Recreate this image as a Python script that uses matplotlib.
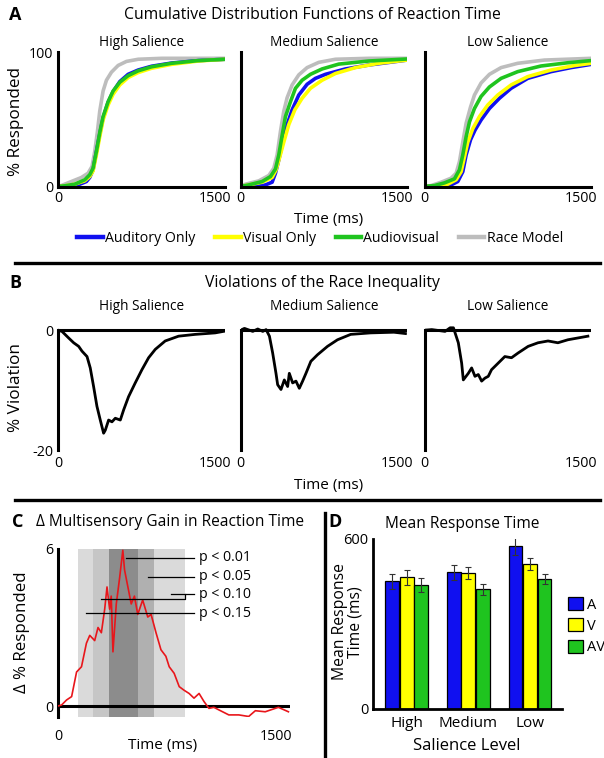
import matplotlib
matplotlib.use("Agg")
import matplotlib.pyplot as plt
from matplotlib.lines import Line2D
from matplotlib.patches import Patch

plt.rcParams['font.family'] = ['Open Sans', 'DejaVu Sans']
plt.rcParams['axes.unicode_minus'] = False

# ---- panel A : CDFs (time ms, % responded) ----
hi_race_t = [0, 32, 128, 224, 288, 326, 352, 378, 400, 432, 464, 512, 576, 656, 768, 992, 1600]
hi_race = [0, 0.7, 3.7, 6.7, 9.9, 14.9, 26, 41, 56, 71, 79, 85, 90, 93, 94.6, 95.3, 95.3]
hi_av_t = [0, 64, 160, 256, 304, 336, 368, 400, 432, 480, 528, 592, 672, 768, 896, 1088, 1344, 1600]
hi_av = [0, 0.5, 1.7, 5, 8.7, 13.6, 26, 40, 52, 63, 71, 77.5, 82.4, 86, 89, 91.6, 93.6, 94.6]
hi_a_t = [0, 96, 192, 272, 304, 336, 368, 400, 432, 480, 528, 592, 672, 768, 896, 1088, 1344, 1600]
hi_a = [0, 0, 1.2, 3.7, 6.7, 12.4, 26, 39, 51, 62.6, 70.5, 78, 83.4, 86.6, 89.4, 91.8, 93.6, 94.6]
hi_v_t = [0, 64, 160, 256, 304, 336, 368, 400, 432, 480, 528, 592, 672, 768, 896, 1088, 1344, 1600]
hi_v = [0, 0.5, 1.7, 4.2, 7.4, 11.6, 23.5, 37, 49.5, 60.6, 68.6, 75.5, 81, 84.7, 87.9, 90.8, 93.3, 94.6]

med_race_t = [0, 48, 176, 272, 320, 352, 384, 416, 448, 496, 560, 640, 752, 912, 1232, 1600]
med_race = [0, 1.7, 4.2, 8.2, 13.6, 23.5, 41, 56, 66, 75.5, 83, 88.4, 92.3, 94.6, 95.3, 95.3]
med_av_t = [0, 80, 208, 288, 336, 368, 400, 432, 480, 528, 592, 672, 784, 944, 1232, 1600]
med_av = [0, 1.2, 3.7, 7.4, 13, 23.5, 38, 52, 63, 73, 79, 83.4, 87.4, 91, 93.3, 94.8]
med_a_t = [0, 144, 240, 304, 336, 368, 406, 448, 496, 560, 640, 720, 816, 1008, 1232, 1600]
med_a = [0, 0, 1.2, 3.2, 9.9, 19.8, 33, 46, 57, 68, 76, 80.4, 83.4, 87.4, 90.3, 94]
med_v_t = [0, 80, 208, 304, 342, 374, 416, 464, 522, 592, 672, 784, 912, 1104, 1328, 1600]
med_v = [0, 1.2, 3.2, 6.7, 12.4, 21, 33, 46, 57, 65.6, 73, 79, 84, 88.4, 91.6, 94]

low_race_t = [0, 64, 160, 256, 304, 336, 368, 400, 442, 480, 544, 624, 736, 896, 1152, 1600]
low_race = [0, 0.7, 3.2, 6.2, 9.9, 18.6, 33, 47, 59, 68, 77, 83.4, 88.4, 91.6, 94, 95.3]
low_av_t = [0, 96, 192, 288, 336, 368, 400, 432, 480, 544, 624, 736, 896, 1120, 1376, 1600]
low_av = [0, 0.7, 2.7, 5.7, 12.4, 23.5, 37, 48, 58, 67, 74, 80.4, 85.4, 89.6, 92, 93.6]
low_a_t = [0, 160, 256, 320, 368, 400, 442, 486, 544, 624, 720, 832, 992, 1216, 1408, 1600]
low_a = [0, 0, 1.2, 3.7, 11, 23.5, 34.7, 42, 49.5, 58, 65.6, 73, 80.4, 85.4, 88.4, 90.8]
low_v_t = [0, 128, 224, 304, 352, 384, 416, 464, 528, 608, 704, 832, 992, 1216, 1440, 1600]
low_v = [0, 0.2, 1.7, 5, 11, 22, 33, 43, 52, 60.6, 68, 75.5, 81.7, 86.6, 89.9, 91.6]

# ---- panel B : race violations ----
hi_viol_t = [0, 38, 102, 150, 198, 230, 278, 309, 341, 373, 405, 437, 453, 485, 517, 549, 597,
             629, 676, 740, 804, 868, 932, 1027, 1155, 1314, 1506, 1585]
hi_viol = [0, -0.2, -1.3, -2.1, -2.7, -3.5, -4.4, -6.3, -9.4, -12.7, -15, -17.2, -16.7, -15, -15.3,
           -14.7, -15, -13.3, -11.1, -8.8, -6.6, -4.6, -3.2, -1.8, -1.0, -0.7, -0.45, -0.2]
med_viol_t = [0, 38, 118, 166, 214, 246, 278, 309, 341, 357, 389, 421, 453, 469, 501, 533, 565,
              597, 629, 676, 740, 836, 932, 1059, 1250, 1474, 1585]
med_viol = [0, 0.3, -0.2, 0.2, -0.2, 0.1, -1.0, -3.8, -7.2, -9.1, -9.9, -8.3, -9.4, -7.2, -8.8,
            -8.5, -9.7, -8.5, -7.2, -5.2, -4.1, -2.7, -1.6, -0.7, -0.45, -0.34, -0.56]
low_viol_t = [0, 70, 134, 198, 246, 278, 294, 325, 357, 373, 421, 453, 485, 517, 549, 581, 613,
              644, 708, 772, 836, 900, 996, 1091, 1187, 1282, 1378, 1474, 1570]
low_viol = [0, 0.1, -0.05, -0.2, 0.4, 0.4, -0.45, -2.1, -5.5, -8.3, -7.2, -6.3, -7.7, -7.4, -8.5,
            -8.0, -7.7, -6.6, -5.5, -4.4, -4.6, -3.8, -2.7, -2.1, -1.8, -2.1, -1.6, -1.3, -1.0]

# ---- panel C : gain ----
gain_t = [0, 25, 59, 94, 128, 162, 196, 219, 253, 276, 299, 322, 338, 356, 367, 379, 402, 425,
          447, 459, 482, 505, 527, 550, 584, 619, 642, 676, 710, 744, 767, 801, 836, 870, 904,
          938, 973, 1007, 1041, 1075, 1110, 1178, 1247, 1315, 1361, 1429, 1520, 1589]
gain = [0, 0.04, 0.23, 0.36, 1.3, 1.5, 2.4, 2.7, 2.5, 3.0, 2.8, 3.7, 4.55, 3.7, 4.2, 2.07, 3.9,
        4.9, 5.95, 5.2, 4.55, 3.9, 4.2, 3.5, 4.05, 3.4, 3.5, 2.8, 2.15, 1.9, 1.5, 1.25, 0.74,
        0.6, 0.48, 0.3, 0.48, 0.17, -0.09, -0.05, -0.15, -0.34, -0.34, -0.4, -0.18, -0.22,
        -0.05, -0.22]
band_start = [137, 240, 349, 349]
band_end = [877, 664, 664, 555]
band_col = ['#dadada', '#c6c6c6', '#b0b0b0', '#8c8c8c']
p_labels = ['p < 0.01', 'p < 0.05', 'p < 0.10', 'p < 0.15']
p_level = [5.66, 4.93, 4.28, 3.55]
p_from = [472, 619, 779, 192]

# ---- panel D : mean RT ----
sal_levels = ['High', 'Medium', 'Low']
rt_a = [451, 483, 576]
rt_v = [465, 480, 511]
rt_av = [437, 422, 458]
err_a = [26, 27, 33]
err_v = [27, 21, 21]
err_av = [24, 20, 17]

BLUE, YEL, GRN, GRY = '#1010f0', '#ffff00', '#1fc41f', '#bdbdbd'

W, H = 604, 758
fig = plt.figure(figsize=(W / 100, H / 100), dpi=100)


def box(x0, y0, x1, y1):
    return [x0 / W, 1 - y1 / H, (x1 - x0) / W, (y1 - y0) / H]


def ft(x, y, s, **kw):
    kw.setdefault('ha', 'center')
    kw.setdefault('va', 'center')
    fig.text(x / W, 1 - y / H, s, **kw)


def style(ax, lw=2.2):
    for s in ['top', 'right']:
        ax.spines[s].set_visible(False)
    for s in ['left', 'bottom']:
        ax.spines[s].set_linewidth(lw)
    ax.tick_params(length=0, labelsize=10.3)


# ---------- A ----------
cdfs = [
    (hi_race_t, hi_race, hi_a_t, hi_a, hi_v_t, hi_v, hi_av_t, hi_av),
    (med_race_t, med_race, med_a_t, med_a, med_v_t, med_v, med_av_t, med_av),
    (low_race_t, low_race, low_a_t, low_a, low_v_t, low_v, low_av_t, low_av),
]
titles = ['High Salience', 'Medium Salience', 'Low Salience']
xs = [(58, 225), (240.5, 407), (424.5, 591)]
for i in range(3):
    ax = fig.add_axes(box(xs[i][0], 52, xs[i][1], 186.5))
    style(ax)
    rt, r, at, a, vt, v, avt, av = cdfs[i]
    ax.plot(rt, r, color=GRY, lw=2.6)
    ax.plot(at, a, color=BLUE, lw=2.6)
    ax.plot(vt, v, color=YEL, lw=2.6)
    ax.plot(avt, av, color=GRN, lw=2.6)
    ax.set_xlim(0, 1600)
    ax.set_ylim(0, 100)
    ax.set_xticks([0, 1500])
    ax.tick_params(axis='x', pad=3)
    if i == 0:
        ax.set_yticks([0, 100])
    else:
        ax.set_yticks([])
    ft((xs[i][0] + xs[i][1]) / 2, 42, titles[i], fontsize=9.8)

ft(15, 15, 'A', fontsize=13, fontweight='bold')
ft(312, 15, 'Cumulative Distribution Functions of Reaction Time', fontsize=11.3)
ft(16, 121, '% Responded', fontsize=12.3, rotation=90)
ft(329, 219, 'Time (ms)', fontsize=11)
handles = [Line2D([], [], color=c, lw=3.2) for c in [BLUE, YEL, GRN, GRY]]
fig.legend(handles, ['Auditory Only', 'Visual Only', 'Audiovisual', 'Race Model'],
           loc='center', bbox_to_anchor=(320 / W, 1 - 238 / H), ncol=4, frameon=False,
           fontsize=10.2, handlelength=1.8, handletextpad=0.15, columnspacing=1.4)

fig.add_artist(Line2D([15 / W, 600 / W], [1 - 263 / H] * 2, color='k', lw=2.4))

# ---------- B ----------
viol = [(hi_viol_t, hi_viol), (med_viol_t, med_viol), (low_viol_t, low_viol)]
for i in range(3):
    ax = fig.add_axes(box(xs[i][0], 323, xs[i][1], 450))
    style(ax)
    ax.spines['bottom'].set_visible(False)
    ax.spines['left'].set_bounds(-20, 0)
    ax.axhline(0, color='k', lw=2.2)
    ax.plot(viol[i][0], viol[i][1], color='k', lw=2.0)
    ax.set_xlim(0, 1600)
    ax.set_ylim(-20, 1.2)
    ax.set_xticks([0, 1500])
    ax.tick_params(axis='x', pad=4)
    if i == 0:
        ax.set_yticks([-20, 0])
    else:
        ax.set_yticks([])
    ft((xs[i][0] + xs[i][1]) / 2, 307, titles[i], fontsize=9.8)

ft(15, 283, 'B', fontsize=13, fontweight='bold')
ft(322, 283, 'Violations of the Race Inequality', fontsize=11.3)
ft(16, 388, '% Violation', fontsize=12.3, rotation=90)
ft(329, 485, 'Time (ms)', fontsize=11)

fig.add_artist(Line2D([15 / W, 600 / W], [1 - 500 / H] * 2, color='k', lw=2.4))
fig.add_artist(Line2D([325 / W, 325 / W], [1 - 513 / H, 0], color='k', lw=2.4))

# ---------- C ----------
ax = fig.add_axes(box(58, 549, 290, 717))
style(ax)
ax.spines['bottom'].set_visible(False)
for s, e, c in zip(band_start, band_end, band_col):
    ax.axvspan(s, e, color=c, lw=0, zorder=0)
ax.axhline(0, color='k', lw=2.2, zorder=2)
ax.plot(gain_t, gain, color='#e8161b', lw=1.2, zorder=3)
for lab, lvl, x0 in zip(p_labels, p_level, p_from):
    if lab == 'p < 0.10':
        ax.plot([294, 874, 874, 938], [4.09, 4.09, lvl, lvl], color='k', lw=0.9, zorder=4)
        ax.plot([x0, 874], [lvl, lvl], color='k', lw=0.9, zorder=4)
    else:
        ax.plot([x0, 938], [lvl, lvl], color='k', lw=0.9, zorder=4)
    ax.text(975, lvl, lab, fontsize=10.2, va='center', ha='left', zorder=5)
ax.set_xlim(0, 1600)
ax.set_ylim(-0.42, 6)
ax.set_xticks([0, 1500])
ax.set_yticks([0, 6])
ax.tick_params(axis='x', pad=9)

ft(18, 522, 'C', fontsize=13, fontweight='bold')
ft(36, 522, 'Δ Multisensory Gain in Reaction Time', fontsize=11.2, ha='left')
ft(22, 632, 'Δ % Responded', fontsize=12.2, rotation=90)
ft(163, 746, 'Time (ms)', fontsize=11)

# ---------- D ----------
ax = fig.add_axes(box(373, 539, 562, 709))
style(ax, 2.0)
pos = list(range(len(sal_levels)))
wid = 0.225
for k, (vals, errs, c) in enumerate([(rt_a, err_a, BLUE), (rt_v, err_v, YEL), (rt_av, err_av, GRN)]):
    xk = [p + (k - 1) * 0.236 for p in pos]
    ax.bar(xk, vals, width=wid, color=c, edgecolor='k', lw=0.9, zorder=2)
    ax.errorbar(xk, vals, yerr=errs, fmt='none', ecolor='#333333', elinewidth=0.8,
                capsize=2, capthick=0.8, zorder=3)
ax.set_xlim(-0.55, 2.52)
ax.set_ylim(0, 600)
ax.set_yticks([0, 600])
ax.set_xticks(pos)
ax.set_xticklabels(sal_levels, fontsize=11)
ax.tick_params(axis='x', pad=5)
ax.tick_params(axis='y', labelsize=10.5)

ft(335, 522, 'D', fontsize=13, fontweight='bold')
ft(462, 524, 'Mean Response Time', fontsize=11.2)
ft(348, 622, 'Mean Response\nTime (ms)', fontsize=11.3, rotation=90, linespacing=1.0)
ft(467, 746, 'Salience Level', fontsize=12)
leg_h = [Patch(facecolor=c, edgecolor='k', lw=0.9) for c in [BLUE, YEL, GRN]]
fig.legend(leg_h, ['A', 'V', 'AV'], loc='upper left', bbox_to_anchor=(568 / W, 1 - 597 / H),
           frameon=False, fontsize=10.5, handlelength=1.0, handleheight=1.0,
           handletextpad=0.3, labelspacing=0.4, borderpad=0, borderaxespad=0)

fig.savefig('out.png', dpi=100)
